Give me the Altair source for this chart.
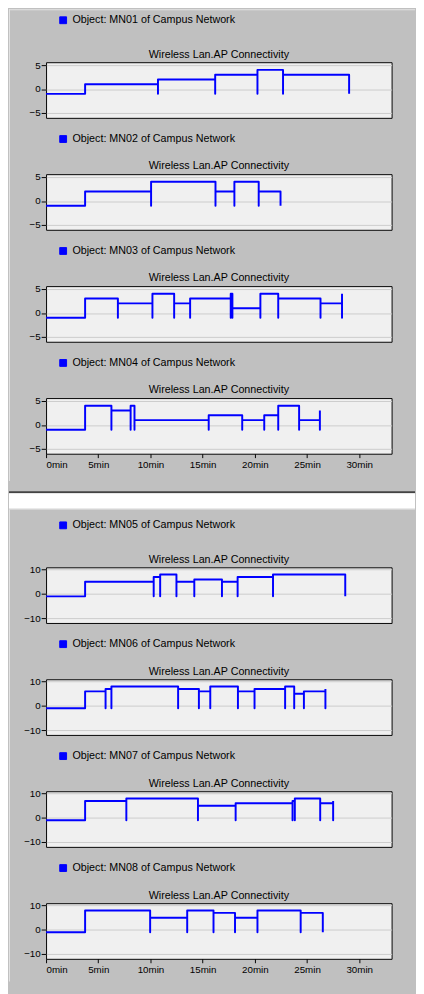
import altair as alt
import pandas as pd

# ---------------- data ----------------
x_ticks = [0, 5, 10, 15, 20, 25, 30]
y_ticks_small = [-5, 0, 5]
y_ticks_big = [-10, 0, 10]

names = ["MN01", "MN02", "MN03", "MN04", "MN05", "MN06", "MN07", "MN08"]

# transition times (min) and the AP value after each transition
mn01_t = [3.74, 10.72, 16.2, 20.25, 22.7]
mn01_v = [1, 2, 3, 4, 3]
mn02_t = [3.74, 10.06, 16.23, 18.04, 20.37]
mn02_v = [2, 4, 2, 4, 2]
mn03_t = [3.74, 6.88, 10.19, 12.27, 13.8, 17.69, 17.85, 20.53, 22.24, 26.29]
mn03_v = [3, 2, 4, 2, 3, 4, 1, 4, 3, 2]
mn04_t = [3.74, 6.26, 8.1, 8.47, 15.58, 18.79, 20.9, 22.24, 24.24]
mn04_v = [4, 3, 4, 1, 2, 1, 2, 4, 1]
mn05_t = [3.74, 10.31, 10.93, 12.49, 14.2, 16.85, 18.35, 21.74]
mn05_v = [5, 7, 8, 5, 6, 5, 7, 8]
mn06_t = [3.74, 5.7, 6.26, 12.65, 14.64, 15.73, 18.38, 19.97, 22.9, 23.77, 24.7]
mn06_v = [6, 7, 8, 7, 6, 8, 6, 7, 8, 5, 6]
mn07_t = [3.74, 7.69, 14.55, 18.16, 23.61, 23.83, 26.26]
mn07_v = [7, 8, 5, 6, 7, 8, 6]
mn08_t = [3.74, 9.97, 13.52, 16.04, 18.1, 20.25, 24.39]
mn08_v = [8, 5, 8, 7, 5, 8, 7]

end_times = [29.03, 22.46, 28.35, 26.23, 28.66, 26.76, 27.5, 26.51]
end_spikes = [None, None, 4, 3, None, 7, 7, None]
no_conn = -1

all_t = [mn01_t, mn02_t, mn03_t, mn04_t, mn05_t, mn06_t, mn07_t, mn08_t]
all_v = [mn01_v, mn02_v, mn03_v, mn04_v, mn05_v, mn06_v, mn07_v, mn08_v]

FONT = "Liberation Sans"
X_MAX = 33.1
W, H = 354, 57


def series_frame(name, times, vals, end, spike):
    rows = [(0.0, no_conn)]
    prev = no_conn
    for t, v in zip(times, vals):
        rows += [(t, prev), (t, no_conn), (t, v)]
        prev = v
    rows += [(end, prev), (end, no_conn)]
    if spike is not None:
        rows.append((end, spike))
    df = pd.DataFrame(rows, columns=["min", "conn"])
    df["i"] = range(len(df))
    df["obj"] = f"Object: {name} of Campus Network"
    return df


def deco(x0, x1, y0, y1, color):
    return alt.Chart(pd.DataFrame({"d": [0]})).mark_rect(color=color).encode(
        x=alt.value(x0), x2=alt.value(x1), y=alt.value(y0), y2=alt.value(y1)
    )


def sub_chart(k, ydomain, yticks, legend_y, title_off, show_x, extra):
    df = series_frame(names[k], all_t[k], all_v[k], end_times[k], end_spikes[k])
    if show_x:
        x_axis = alt.Axis(values=x_ticks, labelExpr="datum.value + 'min'", grid=False,
                          domain=False, ticks=True, tickSize=4, tickColor="#000",
                          labelColor="#000", labelFont=FONT, labelFontSize=10,
                          labelPadding=2, title=None)
    else:
        x_axis = None
    line = alt.Chart(df).mark_line(strokeWidth=2, strokeJoin="round").encode(
        x=alt.X("min:Q", scale=alt.Scale(domain=[0, X_MAX], nice=False, zero=False), axis=x_axis),
        y=alt.Y("conn:Q", scale=alt.Scale(domain=ydomain, nice=False, zero=False),
                axis=alt.Axis(values=yticks, grid=True, gridColor="#cccccc", gridWidth=1,
                              domain=False, tickSize=5, tickColor="#000", labelColor="#000",
                              labelFont=FONT, labelFontSize=10, labelPadding=1, title=None)),
        order=alt.Order("i:Q"),
        color=alt.Color("obj:N", scale=alt.Scale(range=["#0000ff"]),
                        legend=alt.Legend(title=None, orient="none", legendX=12, legendY=legend_y,
                                          symbolType="square", symbolSize=49,
                                          symbolFillColor="#0000ff", symbolStrokeColor="#000000",
                                          symbolStrokeWidth=1, labelFont=FONT, labelFontSize=11,
                                          labelColor="#000", labelOffset=4, labelLimit=0,
                                          padding=0)),
    )
    return alt.layer(*extra, line).properties(
        width=W, height=H,
        title=alt.Title("Wireless Lan.AP Connectivity", font=FONT, fontSize=11,
                        fontWeight="normal", color="#000", anchor="middle",
                        offset=title_off, frame="group"),
    )


small = [-6, 5.6]
big = [-12, 11]

c1 = sub_chart(0, small, y_ticks_small, -48.5, -51.5, False,
               [deco(-38, 378, -54.3, -53.3, "#e4e4e4"), deco(-38, -37, -54.3, 429, "#e4e4e4")])
c2 = sub_chart(1, small, y_ticks_small, -41.5, -38.7, False, [])
c3 = sub_chart(2, small, y_ticks_small, -41.5, -38.7, False, [])
c4 = sub_chart(3, small, y_ticks_small, -41.5, -38.7, True, [])

# thin spacer between the two windows: holds the window edges and the white gap
spacer = alt.layer(
    deco(-38, 378, -19.3, -17.3, "#444444"),
    deco(-38, 378, -17.3, -1.3, "#ffffff"),
    deco(-38, 378, -1.3, -0.3, "#dcdcdc"),
    deco(-38, -37, -0.3, 483, "#e4e4e4"),
).properties(width=W, height=1, view=alt.ViewBackground(fill="transparent", stroke="transparent"))

c5 = sub_chart(4, big, y_ticks_big, -48.5, -45.7, False, [])
c6 = sub_chart(5, big, y_ticks_big, -41.5, -38.7, False, [])
c7 = sub_chart(6, big, y_ticks_big, -41.5, -38.7, False, [])
c8 = sub_chart(7, big, y_ticks_big, -41.5, -38.7, True, [deco(-38, 378, 89, 93, "#c0c0c0")])

chart = alt.vconcat(c1, c2, c3, c4, spacer, c5, c6, c7, c8, spacing=57.7, bounds="flush").resolve_scale(
    x="independent", y="independent", color="independent"
).resolve_legend(color="independent").resolve_axis(x="independent", y="independent").properties(
    padding={"left": 0, "top": -11.7, "right": 0, "bottom": 0},
    background="#c0c0c0",
).configure_view(fill="#f0f0f0", stroke="#000000", strokeWidth=1)

chart.save("out.html", embed_options={"renderer": "svg", "actions": False})
